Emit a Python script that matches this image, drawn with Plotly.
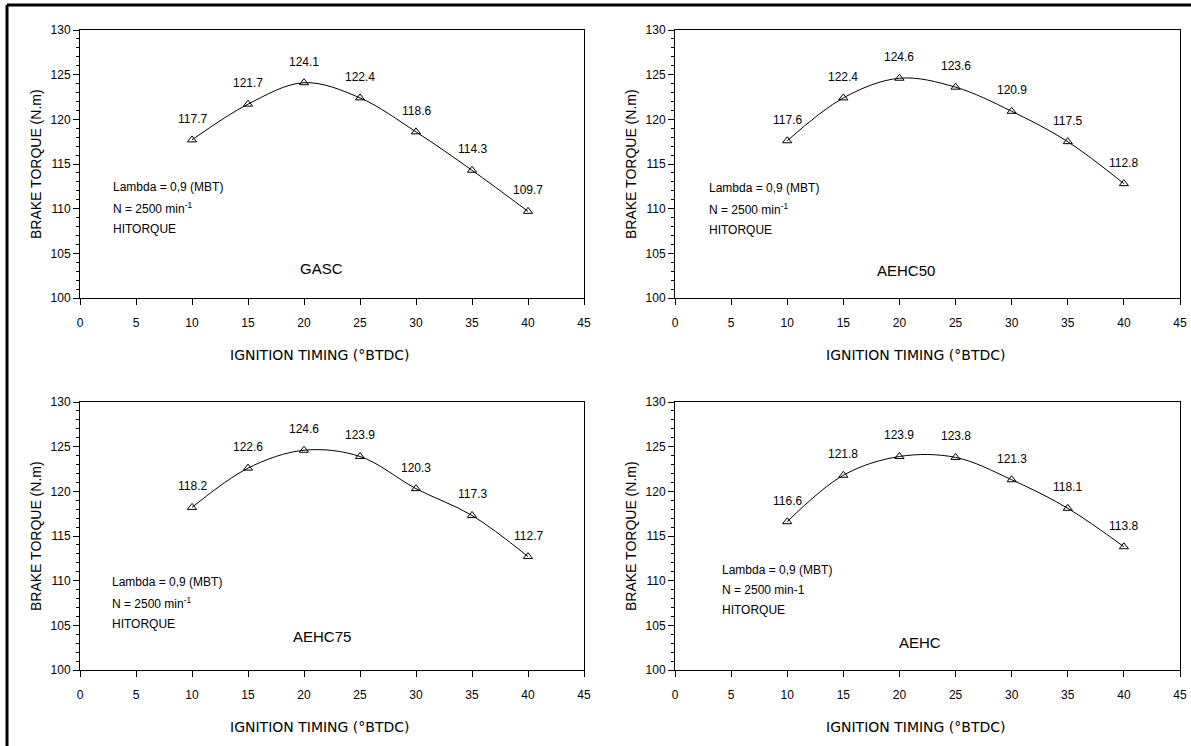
import plotly.graph_objects as go

W, H = 1191, 746

timing = [10, 15, 20, 25, 30, 35, 40]
fuels = ["GASC", "AEHC50", "AEHC75", "AEHC"]
torque_gasc = [117.7, 121.7, 124.1, 122.4, 118.6, 114.3, 109.7]
torque_aehc50 = [117.6, 122.4, 124.6, 123.6, 120.9, 117.5, 112.8]
torque_aehc75 = [118.2, 122.6, 124.6, 123.9, 120.3, 117.3, 112.7]
torque_aehc = [116.6, 121.8, 123.9, 123.8, 121.3, 118.1, 113.8]
series = [torque_gasc, torque_aehc50, torque_aehc75, torque_aehc]
speed_text = ["N = 2500 min<sup>-1</sup>", "N = 2500 min<sup>-1</sup>",
              "N = 2500 min<sup>-1</sup>", "N = 2500 min-1"]
x_ticks = [0, 5, 10, 15, 20, 25, 30, 35, 40, 45]
y_ticks = [100, 105, 110, 115, 120, 125, 130]

# pixel layout of each panel: (left, right, top, bottom)
panels_px = [(80, 584, 30, 298), (675, 1180, 30, 298),
             (80, 584, 402, 670), (675, 1180, 402, 670)]
info_pos = [(2.8, 112.45), (2.85, 112.3), (2.7, 109.85), (4.0, 111.2)]
info_step = [2.35, 2.35, 2.35, 2.24]
name_pos = [(21.6, 103.25), (20.6, 103.1), (21.6, 103.7), (21.8, 103.1)]

fig = go.Figure()
TXT = "Arial, Liberation Sans, sans-serif"

for i in range(4):
    l, r, t, b = panels_px[i]
    ax = "" if i == 0 else str(i + 1)
    xa, ya = "x" + ax, "y" + ax
    fig.add_trace(go.Scatter(
        x=timing, y=series[i], mode="lines+markers",
        line=dict(color="black", width=1, shape="spline", smoothing=1.0),
        marker=dict(symbol="triangle-up-open", size=8, color="black",
                    line=dict(width=1, color="black")),
        xaxis=xa, yaxis=ya, showlegend=False, hoverinfo="x+y"))
    common = dict(showline=True, linecolor="black", linewidth=1, mirror=True,
                  showgrid=False, zeroline=False, ticks="outside", automargin=False,
                  tickcolor="black", tickfont=dict(family=TXT, size=12, color="black"))
    fig.layout["xaxis" + ax] = dict(
        domain=[l / W, r / W], range=[0, 45], tickvals=x_ticks, ticklen=6,
        anchor=ya, ticklabelstandoff=8, **common)
    fig.layout["yaxis" + ax] = dict(
        domain=[1 - b / H, 1 - t / H], range=[100, 130], tickvals=y_ticks,
        ticklen=6, anchor=xa,
        minor=dict(dtick=1, ticks="outside", ticklen=3, tickcolor="black", showgrid=False),
        **common)
    for xv, yv in zip(timing, series[i]):
        fig.add_annotation(x=xv, y=yv, xref=xa, yref=ya, text=f"{yv:.1f}",
                           showarrow=False, yshift=21, xanchor="center", yanchor="middle",
                           font=dict(family=TXT, size=12, color="black"))
    ix, iy = info_pos[i]
    for k, s in enumerate(["Lambda = 0,9 (MBT)", speed_text[i], "HITORQUE"]):
        fig.add_annotation(x=ix, y=iy - k * info_step[i], xref=xa, yref=ya, text=s,
                           showarrow=False, xanchor="left", yanchor="middle",
                           font=dict(family=TXT, size=12, color="black"))
    nx, ny = name_pos[i]
    fig.add_annotation(x=nx, y=ny, xref=xa, yref=ya, text=fuels[i], showarrow=False,
                       xanchor="center", yanchor="middle",
                       font=dict(family=TXT, size=15, color="black"))
    fig.add_annotation(x=(l - 44) / W, y=1 - (t + b) / 2 / H, xref="paper", yref="paper",
                       text="BRAKE TORQUE (N.m)", textangle=-90, showarrow=False,
                       xanchor="center", yanchor="middle",
                       font=dict(family=TXT, size=14, color="black"))
    fig.add_annotation(x=((l + r) / 2 - 12) / W, y=1 - (b + 57) / H, xref="paper",
                       yref="paper", text="IGNITION TIMING (°BTDC)", showarrow=False,
                       xanchor="center", yanchor="middle",
                       font=dict(family="DejaVu Sans, sans-serif", size=14, color="black"))

fig.add_shape(type="line", xref="paper", yref="paper", x0=7 / W, x1=1.0,
              y0=1 - 5 / H, y1=1 - 5 / H, line=dict(color="black", width=3))
fig.add_shape(type="line", xref="paper", yref="paper", x0=7 / W, x1=7 / W,
              y0=0, y1=1 - 5 / H, line=dict(color="black", width=3))

fig.update_layout(width=W, height=H, margin=dict(l=0, r=0, t=0, b=0, autoexpand=False),
                  paper_bgcolor="white", plot_bgcolor="white")
fig.write_html("out.html")
